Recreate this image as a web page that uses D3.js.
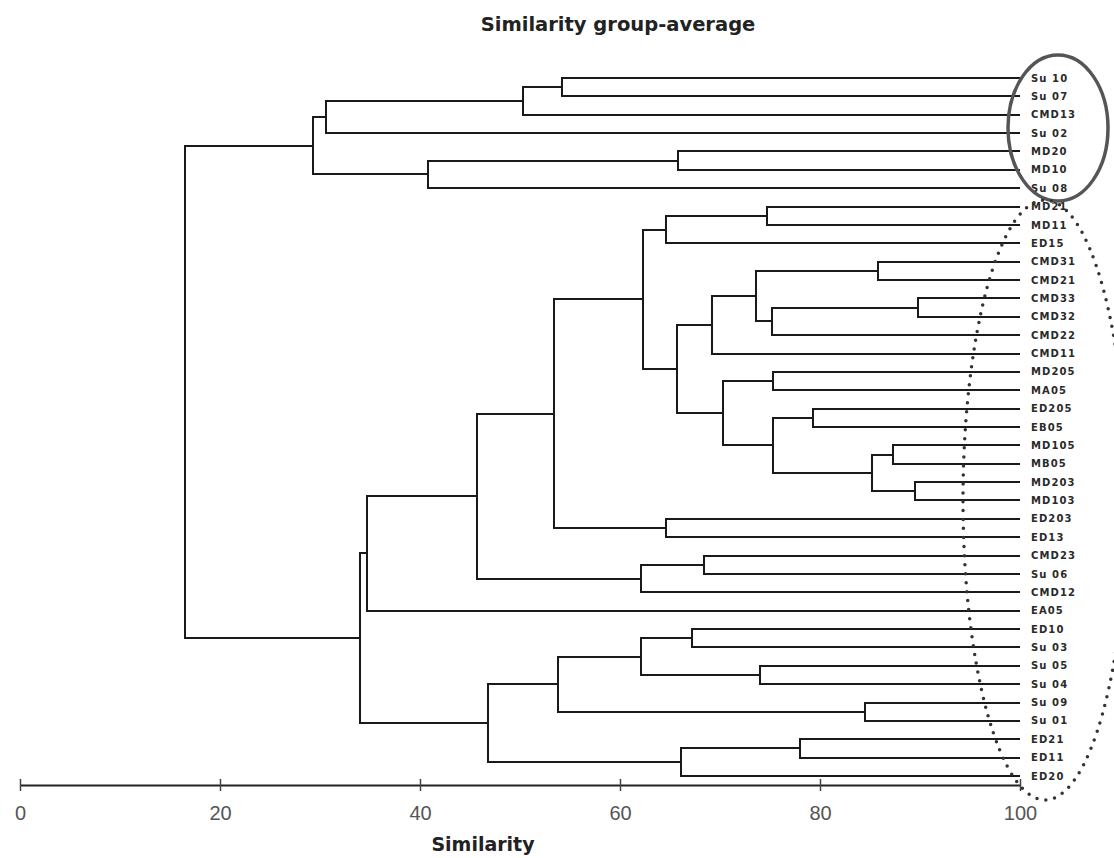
<!DOCTYPE html>
<html>
<head>
<meta charset="utf-8">
<script src="https://cdn.jsdelivr.net/npm/d3@7"></script>
<style>
  body { margin: 0; background: #fff; }
  #chart-container { width: 1114px; height: 858px; }
</style>
</head>
<body>
<div id="chart-container"></div>
<script>
// vars
let width = 1114, height = 858;

// leaves, top to bottom
let leafNames = ["Su 10", "Su 07", "CMD13", "Su 02", "MD20", "MD10", "Su 08", "MD21", "MD11", "ED15",
  "CMD31", "CMD21", "CMD33", "CMD32", "CMD22", "CMD11", "MD205", "MA05", "ED205", "EB05",
  "MD105", "MB05", "MD203", "MD103", "ED203", "ED13", "CMD23", "Su 06", "CMD12", "EA05",
  "ED10", "Su 03", "Su 05", "Su 04", "Su 09", "Su 01", "ED21", "ED11", "ED20"];

// merge i is called "n" + (i+1): left child, right child, similarity
let mergeLeft = ["Su 10", "n1", "n2", "MD20", "n4", "n3", "MD21", "n7", "CMD31", "CMD33",
  "n10", "n9", "n12", "MD205", "ED205", "MD105", "MD203", "n16", "n15", "n14",
  "n13", "n8", "ED203", "n22", "CMD23", "n25", "n24", "n27", "ED10", "Su 05",
  "n29", "Su 09", "n31", "ED21", "n34", "n33", "n28", "n6"];
let mergeRight = ["Su 07", "CMD13", "Su 02", "MD10", "Su 08", "n5", "MD11", "ED15", "CMD21", "CMD32",
  "CMD22", "n11", "CMD11", "MA05", "EB05", "MB05", "MD103", "n17", "n18", "n19",
  "n20", "n21", "ED13", "n23", "Su 06", "CMD12", "n26", "EA05", "Su 03", "Su 04",
  "n30", "Su 01", "n32", "ED11", "ED20", "n35", "n36", "n37"];
let mergeSim = [54.2, 50.3, 30.6, 65.8, 40.8, 29.3, 74.7, 64.6, 85.8, 89.8,
  75.2, 73.6, 69.2, 75.3, 79.3, 87.3, 89.5, 85.2, 75.3, 70.3,
  65.7, 62.3, 64.6, 53.4, 68.4, 62.1, 45.7, 34.7, 67.2, 74.0,
  62.1, 84.5, 53.8, 78.0, 66.1, 46.8, 34.0, 16.5];

let simTicks = [0, 20, 40, 60, 80, 100];

createDendrogram();

/**
 * Draw the dendrogram, axis and the two marker ellipses.
 */
function createDendrogram() {
  let svg = d3.select("#chart-container")
    .append("svg")
    .attr("width", width)
    .attr("height", height)
    .attr("viewBox", "0 0 " + width + " " + height)
    .style("background", "#fff");

  let xScale = d3.scaleLinear().domain([0, 100]).range([20, 1020]);
  let yScale = d3.scalePoint().domain(leafNames).range([78, 776]);
  let axisY = 785;

  // build tree from merge lists
  let nodeMap = new Map();
  leafNames.forEach(n => nodeMap.set(n, { name: n, sim: 100 }));
  mergeSim.forEach((s, i) => {
    nodeMap.set("n" + (i + 1), {
      name: "n" + (i + 1),
      sim: s,
      children: [nodeMap.get(mergeLeft[i]), nodeMap.get(mergeRight[i])]
    });
  });
  let root = d3.hierarchy(nodeMap.get("n" + mergeSim.length));
  root.eachAfter(d => {
    d.px = xScale(d.data.sim);
    d.py = d.children ? d3.mean(d.children, c => c.py) : yScale(d.data.name);
  });

  // draw links
  svg.append("g")
    .selectAll("path")
    .data(root.descendants().filter(d => d.children))
    .join("path")
    .attr("d", d => {
      let a = d.children[0], b = d.children[1];
      return "M" + a.px + "," + a.py + "H" + d.px + "V" + b.py + "H" + b.px;
    })
    .attr("fill", "none")
    .attr("stroke", "#1a1a1a")
    .attr("stroke-width", 2)
    .style("shape-rendering", "crispEdges");

  // leaf labels
  svg.append("g")
    .selectAll("text")
    .data(root.leaves())
    .join("text")
    .attr("x", xScale(100) + 11)
    .attr("y", d => d.py)
    .attr("dy", "0.36em")
    .text(d => d.data.name)
    .style("font-family", "DejaVu Sans")
    .style("font-weight", "bold")
    .style("font-size", "10px")
    .style("letter-spacing", "1.1px")
    .style("fill", "#2a2a2a");

  // axis
  let axis = d3.axisBottom(xScale).tickValues(simTicks).tickSizeOuter(0);
  let axisG = svg.append("g")
    .attr("transform", "translate(0," + axisY + ")")
    .call(axis);
  axisG.select(".domain")
    .attr("stroke", "#222")
    .attr("stroke-width", 2);
  axisG.selectAll(".tick line")
    .attr("y1", -6)
    .attr("y2", 6)
    .attr("stroke", "#444")
    .attr("stroke-width", 1.5);
  axisG.selectAll(".tick text")
    .attr("y", 35)
    .attr("dy", 0)
    .style("font-family", "Liberation Sans")
    .style("font-size", "20px")
    .style("fill", "#555");

  // titles
  svg.append("text")
    .attr("x", 618)
    .attr("y", 31)
    .text("Similarity group-average")
    .style("text-anchor", "middle")
    .style("font-family", "DejaVu Sans")
    .style("font-weight", "bold")
    .style("font-size", "19.5px")
    .style("fill", "#222");
  svg.append("text")
    .attr("x", 483)
    .attr("y", 851)
    .text("Similarity")
    .style("text-anchor", "middle")
    .style("font-family", "DejaVu Sans")
    .style("font-weight", "bold")
    .style("font-size", "19px")
    .style("fill", "#222");

  // ellipses
  svg.append("ellipse")
    .attr("cx", 1058)
    .attr("cy", 128)
    .attr("rx", 50)
    .attr("ry", 73)
    .attr("fill", "none")
    .attr("stroke", "#555")
    .attr("stroke-width", 3.5);
  svg.append("ellipse")
    .attr("cx", 1045)
    .attr("cy", 500)
    .attr("rx", 82)
    .attr("ry", 300)
    .attr("fill", "none")
    .attr("stroke", "#333")
    .attr("stroke-width", 3.5)
    .attr("stroke-linecap", "round")
    .attr("stroke-dasharray", "0 9");
}
</script>
</body>
</html>
